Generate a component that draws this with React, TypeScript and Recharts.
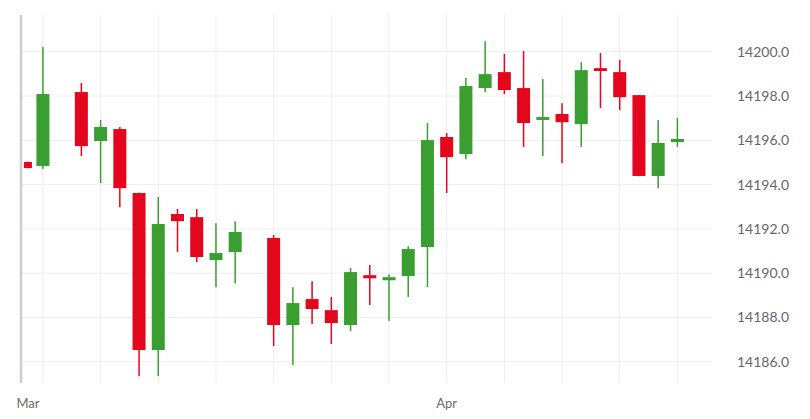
import React from "react";
import {
  ComposedChart,
  Bar,
  XAxis,
  YAxis,
  CartesianGrid,
  ReferenceLine,
} from "recharts";

// Candles. slot = trading-day position on the time axis
const slots = [-0.78, 0, 2, 3, 4, 5, 6, 7, 8, 9, 10, 12, 13, 14, 15, 16, 17, 18, 19, 20, 21, 22, 23, 24, 25, 26, 27, 28, 29, 30, 31, 32, 33];
const opens = [14195.02, 14194.84, 14198.18, 14195.97, 14196.51, 14193.62, 14186.53, 14192.67, 14192.53, 14190.59, 14190.95, 14191.59, 14187.66, 14188.83, 14188.33, 14187.66, 14189.91, 14189.68, 14189.87, 14191.18, 14196.15, 14195.38, 14198.36, 14199.08, 14198.36, 14196.92, 14197.19, 14196.73, 14199.26, 14199.08, 14198.04, 14194.39, 14195.92];
const highs = [14195.04, 14200.21, 14198.59, 14196.92, 14196.6, 14193.64, 14193.44, 14192.9, 14192.9, 14192.26, 14192.35, 14191.72, 14189.37, 14189.64, 14188.92, 14190.23, 14190.37, 14189.95, 14191.22, 14196.78, 14196.33, 14198.81, 14200.48, 14199.9, 14200.03, 14198.77, 14197.68, 14199.53, 14199.94, 14199.63, 14198.05, 14196.92, 14197.01];
const lows = [14194.74, 14194.7, 14195.29, 14194.07, 14192.98, 14185.35, 14185.35, 14190.96, 14190.5, 14189.37, 14189.55, 14186.71, 14185.85, 14187.7, 14186.8, 14187.38, 14188.56, 14187.84, 14188.92, 14189.37, 14193.62, 14195.15, 14198.18, 14198.09, 14195.7, 14195.29, 14194.97, 14195.7, 14197.46, 14197.37, 14194.38, 14193.84, 14195.7];
const closes = [14194.75, 14198.09, 14195.74, 14196.6, 14193.84, 14186.53, 14192.22, 14192.35, 14190.73, 14190.91, 14191.86, 14187.66, 14188.65, 14188.38, 14187.75, 14190.05, 14189.77, 14189.82, 14191.09, 14196.01, 14195.24, 14198.45, 14198.99, 14198.27, 14196.78, 14197.05, 14196.82, 14199.17, 14199.13, 14197.95, 14194.39, 14195.88, 14196.06];

const gridSlots = [0, 3, 6, 9, 12, 15, 18, 21, 24, 27, 30, 33];
const monthSlots = [-0.78, 21];
const monthLabels = ["Mar", "Apr"];
const priceTicks = [14186, 14188, 14190, 14192, 14194, 14196, 14198, 14200];

const X_DOMAIN: [number, number] = [-1.14, 34.8];
const Y_DOMAIN: [number, number] = [14185.04, 14201.66];

const UP = "#3a9e31";
const DOWN = "#e3061d";

const data = slots.map((slot, i) => ({
  slot,
  open: opens[i],
  high: highs[i],
  low: lows[i],
  close: closes[i],
}));

// wick + body, body position interpolated inside the [low, high] bar the library gives us
function Candle(props: any) {
  const { x, y, width, height, payload, index } = props;
  if (payload == null || height == null) return null;
  const { open, high, low, close } = payload;
  const span = high - low;
  const py = (v: number) => y + ((high - v) / span) * height;
  const color = close >= open ? UP : DOWN;
  const cx = x + width / 2;
  const w = index === 0 ? 8 : width; // first candle is a partial one, drawn narrower
  const top = py(Math.max(open, close));
  const bottom = py(Math.min(open, close));
  return (
    <g>
      <line x1={cx} x2={cx} y1={y} y2={y + height} stroke={color} strokeWidth={1.5} />
      <rect x={cx - w / 2} y={top} width={w} height={Math.max(bottom - top, 2.5)} fill={color} />
    </g>
  );
}

export default function App() {
  return (
    <ComposedChart
      width={794}
      height={405}
      data={data}
      margin={{ top: 7, right: 0, left: 13, bottom: 0 }}
      style={{ fontFamily: "Lato, 'Open Sans', sans-serif" }}
    >
      <CartesianGrid
        stroke="#ededed"
        strokeWidth={1}
        verticalValues={gridSlots}
        horizontalValues={priceTicks}
        syncWithTicks
      />
      <XAxis
        dataKey="slot"
        type="number"
        domain={X_DOMAIN}
        ticks={monthSlots}
        allowDataOverflow
        tickFormatter={(v: number) => monthLabels[monthSlots.indexOf(v)] ?? ""}
        axisLine={false}
        tickLine={false}
        tickMargin={10}
        height={30}
        tick={{ fontSize: 13, fill: "#6b6b6b" }}
        interval={0}
      />
      <YAxis
        orientation="right"
        type="number"
        domain={Y_DOMAIN}
        ticks={priceTicks}
        allowDataOverflow
        width={90}
        axisLine={false}
        tickLine={false}
        tickMargin={19}
        tick={{ fontSize: 14, fill: "#666666" }}
        tickFormatter={(v: number) => v.toFixed(1)}
        interval={0}
      />
      <ReferenceLine x={X_DOMAIN[0]} stroke="#c9ccd3" strokeWidth={2.5} />
      <Bar
        dataKey={(d: any) => [d.low, d.high]}
        barSize={13}
        shape={Candle}
        isAnimationActive={false}
      />
    </ComposedChart>
  );
}
